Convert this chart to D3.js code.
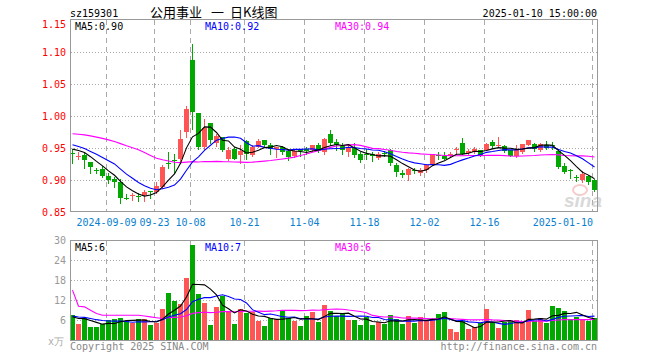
<!DOCTYPE html>
<html>
<head>
<meta charset="utf-8">
<script src="https://cdn.jsdelivr.net/npm/d3@7"></script>
<style>
  body { margin: 0; background: #fff; }
  svg text { font-family: "DejaVu Sans Mono", monospace; font-size: 10px; }
</style>
</head>
<body>
<svg id="chart" width="660" height="360"></svg>
<script>
// daily bars, 2024-08-30 .. 2025-01-10 (88 trading days)
const openP = [0.943,0.938,0.940,0.929,0.916,0.918,0.907,0.903,0.897,0.873,0.876,0.875,0.877,0.883,0.882,0.890,0.927,0.932,0.933,0.975,1.088,1.005,0.952,0.990,0.958,0.968,0.934,0.950,0.940,0.962,0.940,0.953,0.963,0.955,0.949,0.953,0.946,0.938,0.950,0.950,0.947,0.956,0.945,0.972,0.960,0.954,0.945,0.951,0.941,0.941,0.942,0.935,0.943,0.947,0.924,0.912,0.908,0.917,0.911,0.916,0.924,0.940,0.938,0.938,0.948,0.959,0.943,0.944,0.947,0.947,0.960,0.954,0.954,0.947,0.938,0.944,0.956,0.957,0.947,0.956,0.956,0.946,0.922,0.917,0.906,0.900,0.907,0.900]
const highP = [0.950,0.944,0.945,0.929,0.919,0.923,0.911,0.906,0.903,0.879,0.880,0.880,0.885,0.884,0.898,0.924,0.945,0.942,0.979,1.017,1.113,1.005,0.996,0.990,0.973,0.968,0.953,0.953,0.956,0.963,0.955,0.965,0.963,0.958,0.953,0.954,0.950,0.950,0.950,0.953,0.955,0.958,0.966,0.979,0.965,0.959,0.956,0.958,0.944,0.950,0.945,0.944,0.946,0.950,0.927,0.916,0.919,0.920,0.920,0.926,0.941,0.944,0.944,0.944,0.953,0.967,0.949,0.952,0.948,0.958,0.964,0.968,0.956,0.948,0.956,0.957,0.963,0.959,0.959,0.962,0.960,0.947,0.928,0.918,0.909,0.915,0.908,0.902]
const lowP = [0.928,0.933,0.920,0.912,0.912,0.906,0.896,0.890,0.865,0.871,0.870,0.868,0.868,0.872,0.880,0.888,0.919,0.911,0.929,0.968,0.981,0.950,0.950,0.959,0.954,0.946,0.932,0.933,0.928,0.934,0.938,0.953,0.953,0.942,0.937,0.941,0.932,0.937,0.938,0.942,0.946,0.944,0.942,0.955,0.947,0.941,0.938,0.937,0.929,0.933,0.930,0.934,0.938,0.924,0.907,0.906,0.900,0.911,0.908,0.913,0.924,0.934,0.933,0.937,0.941,0.941,0.941,0.943,0.939,0.947,0.951,0.953,0.945,0.938,0.937,0.943,0.956,0.946,0.946,0.950,0.950,0.919,0.911,0.904,0.899,0.898,0.894,0.883]
const closeP = [0.942,0.939,0.932,0.921,0.915,0.907,0.900,0.898,0.873,0.872,0.877,0.874,0.882,0.882,0.891,0.921,0.926,0.931,0.965,1.012,1.007,0.953,0.982,0.963,0.970,0.947,0.947,0.934,0.946,0.941,0.953,0.962,0.955,0.950,0.953,0.944,0.937,0.946,0.946,0.946,0.955,0.946,0.965,0.959,0.956,0.947,0.953,0.940,0.932,0.940,0.938,0.942,0.942,0.927,0.913,0.908,0.918,0.916,0.917,0.924,0.941,0.939,0.934,0.942,0.949,0.942,0.946,0.950,0.940,0.957,0.954,0.956,0.946,0.939,0.948,0.957,0.963,0.950,0.957,0.951,0.954,0.921,0.913,0.916,0.905,0.910,0.898,0.885]
// volume, 万手
const volume = [7.6,4.9,6.7,4.0,4.0,4.9,6.1,6.4,6.7,5.8,5.2,6.4,6.4,4.6,5.2,9.4,14.2,11.9,11.0,18.7,28.6,13.9,11.2,4.6,10.0,13.3,8.5,4.9,9.4,8.2,8.5,5.8,4.3,6.7,6.4,8.8,6.7,5.8,4.3,7.3,8.5,5.5,10.6,8.8,7.3,8.2,6.1,6.1,4.6,7.0,4.6,5.5,4.9,7.6,6.4,4.9,7.3,5.2,7.0,5.8,6.4,7.9,8.5,3.4,2.5,5.8,3.4,4.0,5.2,9.4,5.5,3.7,5.5,5.8,6.1,5.2,9.1,5.8,6.7,5.2,10.3,9.7,8.8,6.4,7.0,6.4,5.8,6.8]
// 29 sessions before the window, only used for the moving averages
const priorClose = [0.960,0.965,0.968,0.970,0.968,0.970,0.972,0.975,0.972,0.970,0.970,1.010,1.020,1.025,0.990,0.978,0.990,0.985,0.988,0.985,0.968,0.964,0.965,0.960,0.958,0.950,0.948,0.953,0.952]
const priorVolume = [149,12.7,34,34,20,6.1,6.4,6.7,5.8,5.2,6.4,13.9,12.1,12.7,16.9,7.0,8.5,7.6,7.5,7.5,7.2,8.0,7.5,7.4,7.4,7.5,6.8,6.9,6.7]

const tickIndex = [6,14,20,29,39,49,59,69,87]
const tickLabels = ["2024-09-09","09-23","10-08","10-21","11-04","11-18","12-02","12-16","2025-01-10"]
const priceTicks = [1.15,1.10,1.05,1.00,0.95,0.90,0.85]
const volTicks = [30,24,18,12,6]
const titleParts = ["公用事业", "一", "日K线图"]

const UP = "#ff5555", DOWN = "#00a800", GRID = "#aaaaaa", FRAME = "#999999"

const n = closeP.length
const svg = d3.select("#chart")

const x = d3.scaleLinear().domain([0, 88]).range([70, 598])
const y = d3.scaleLinear().domain([0.85, 1.15]).range([212.5, 20.5])
const yv = d3.scaleLinear().domain([0, 30]).range([340.5, 240.5])

movingAvg = (prior, values, len) => {
  const all = prior.concat(values)
  return values.map((v, i) => d3.mean(all.slice(prior.length + i - len + 1, prior.length + i + 1)))
}

const bars = d3.range(n).map(i => ({
  i: i, o: openP[i], h: highP[i], l: lowP[i], c: closeP[i], v: volume[i],
  up: closeP[i] >= openP[i]
}))

// ---- grid ----
const grid = svg.append("g").attr("shape-rendering", "crispEdges")
grid.selectAll("line.vp").data(tickIndex).join("line")
    .attr("x1", d => x(d) + 0.5).attr("x2", d => x(d) + 0.5)
    .attr("y1", 20).attr("y2", 211)
    .attr("stroke", GRID).attr("stroke-dasharray", "5,4")
grid.selectAll("line.vv").data(tickIndex).join("line")
    .attr("x1", d => x(d) + 0.5).attr("x2", d => x(d) + 0.5)
    .attr("y1", 241).attr("y2", 340)
    .attr("stroke", GRID).attr("stroke-dasharray", "5,4")
grid.selectAll("line.hp").data(priceTicks.slice(1, -1)).join("line")
    .attr("x1", 71).attr("x2", 597)
    .attr("y1", d => Math.floor(y(d)) + 0.5).attr("y2", d => Math.floor(y(d)) + 0.5)
    .attr("stroke", GRID).attr("stroke-dasharray", "1,2")
svg.append("g").attr("shape-rendering", "crispEdges")
  .selectAll("line").data(volTicks.slice(1)).join("line")
    .attr("x1", 71).attr("x2", 597)
    .attr("y1", d => Math.floor(yv(d)) + 0.5).attr("y2", d => Math.floor(yv(d)) + 0.5)
    .attr("stroke", GRID).attr("stroke-dasharray", "1,2")

// ---- watermark ----
const wm = svg.append("g").attr("opacity", 0.55)
wm.append("ellipse").attr("cx", 580).attr("cy", 190).attr("rx", 7).attr("ry", 5)
    .attr("fill", "none").attr("stroke", "#f3a0a0").attr("stroke-width", 2)
wm.append("text").attr("x", 564).attr("y", 207)
    .style("font-family", "'Liberation Sans', Arial, sans-serif")
    .style("font-size", "19px").style("font-weight", "bold").style("font-style", "italic")
    .attr("fill", "#bbbbbb").text("sina")

// ---- candles ----
const candles = svg.append("g").attr("shape-rendering", "crispEdges")
candles.selectAll("line").data(bars).join("line")
    .attr("x1", d => x(d.i) + 2.5).attr("x2", d => x(d.i) + 2.5)
    .attr("y1", d => Math.round(y(d.h))).attr("y2", d => Math.round(y(d.l)) + 1)
    .attr("stroke", d => d.up ? UP : DOWN)
candles.selectAll("rect").data(bars).join("rect")
    .attr("x", d => x(d.i)).attr("width", 5)
    .attr("y", d => Math.round(y(Math.max(d.o, d.c))))
    .attr("height", d => Math.max(1, Math.round(y(Math.min(d.o, d.c))) - Math.round(y(Math.max(d.o, d.c)))))
    .attr("fill", d => d.up ? UP : DOWN)

// ---- volume bars ----
svg.append("g").attr("shape-rendering", "crispEdges")
  .selectAll("rect").data(bars).join("rect")
    .attr("x", d => x(d.i)).attr("width", 5)
    .attr("y", d => Math.round(yv(d.v)))
    .attr("height", d => 340 - Math.round(yv(d.v)))
    .attr("fill", d => d.up ? UP : DOWN)

// ---- moving averages ----
const maDefs = [
  {len: 5, color: "#000000", lx: 75},
  {len: 10, color: "#0000ff", lx: 205},
  {len: 30, color: "#ff00ff", lx: 335}
]
const priceMA = maDefs.map(m => ({...m, vals: movingAvg(priorClose, closeP, m.len)}))
const volMA = maDefs.map(m => ({...m, vals: movingAvg(priorVolume, volume, m.len)}))

const linePrice = d3.line().x((d, i) => x(i) + 2.5).y(d => y(d))
const lineVol = d3.line().x((d, i) => x(i) + 2.5).y(d => yv(d))

svg.append("g").selectAll("path").data(priceMA.slice().reverse()).join("path")
    .attr("d", d => linePrice(d.vals)).attr("fill", "none")
    .attr("stroke", d => d.color).attr("stroke-width", 1.1)
svg.append("g").selectAll("path").data(volMA.slice().reverse()).join("path")
    .attr("d", d => lineVol(d.vals)).attr("fill", "none")
    .attr("stroke", d => d.color).attr("stroke-width", 1.1)

// ---- frames ----
svg.append("rect").attr("x", 70.5).attr("y", 19.5).attr("width", 527).attr("height", 192)
    .attr("fill", "none").attr("stroke", FRAME).attr("shape-rendering", "crispEdges")
svg.append("rect").attr("x", 70.5).attr("y", 240.5).attr("width", 527).attr("height", 100)
    .attr("fill", "none").attr("stroke", FRAME).attr("shape-rendering", "crispEdges")

// ---- legends ----
svg.selectAll("text.lp").data(priceMA).join("text")
    .attr("x", d => d.lx).attr("y", 30).attr("fill", d => d.color)
    .text(d => "MA" + d.len + ":" + d.vals[n - 1].toFixed(2))
svg.selectAll("text.lv").data(volMA).join("text")
    .attr("x", d => d.lx).attr("y", 251).attr("fill", d => d.color)
    .text(d => "MA" + d.len + ":" + Math.round(d.vals[n - 1]))

// ---- axis labels ----
svg.append("g").selectAll("text").data(priceTicks).join("text")
    .attr("x", 66).attr("text-anchor", "end").attr("fill", "#ff0000")
    .attr("y", (d, i) => i == 0 ? y(d) + 7 : y(d) + 3.5)
    .text(d => d.toFixed(2))
svg.append("g").selectAll("text").data(volTicks).join("text")
    .attr("x", 66).attr("text-anchor", "end").attr("fill", "#999999")
    .attr("y", d => yv(d) + 3.5)
    .text(d => d)
svg.append("text").attr("x", 64).attr("y", 345).attr("text-anchor", "end")
    .attr("fill", "#aaaaaa").text("x万")

svg.append("g").selectAll("text").data(tickIndex).join("text")
    .attr("x", (d, i) => i == tickIndex.length - 1 ? x(d) + 1 : x(d) + 0.5)
    .attr("text-anchor", (d, i) => i == tickIndex.length - 1 ? "end" : "middle")
    .attr("y", 226).attr("fill", "#0a7fd0")
    .text((d, i) => tickLabels[i])

// ---- header / footer ----
svg.append("text").attr("x", 70).attr("y", 17).attr("fill", "#000").text("sz159301")
svg.append("g").selectAll("text").data(titleParts).join("text")
    .attr("x", (d, i) => [150, 211, 230][i]).attr("y", 17).attr("fill", "#000")
    .style("font-family", "'Noto Sans CJK SC', sans-serif").style("font-size", "13px")
    .text(d => d)
svg.append("text").attr("x", 597).attr("y", 17).attr("text-anchor", "end").attr("fill", "#000")
    .text("2025-01-10 15:00:00")
svg.append("text").attr("x", 70).attr("y", 350).attr("fill", "#888888").text("Copyright 2025 SINA.COM")
svg.append("text").attr("x", 597).attr("y", 350).attr("text-anchor", "end").attr("fill", "#888888")
    .text("http://finance.sina.com.cn")
</script>
</body>
</html>
